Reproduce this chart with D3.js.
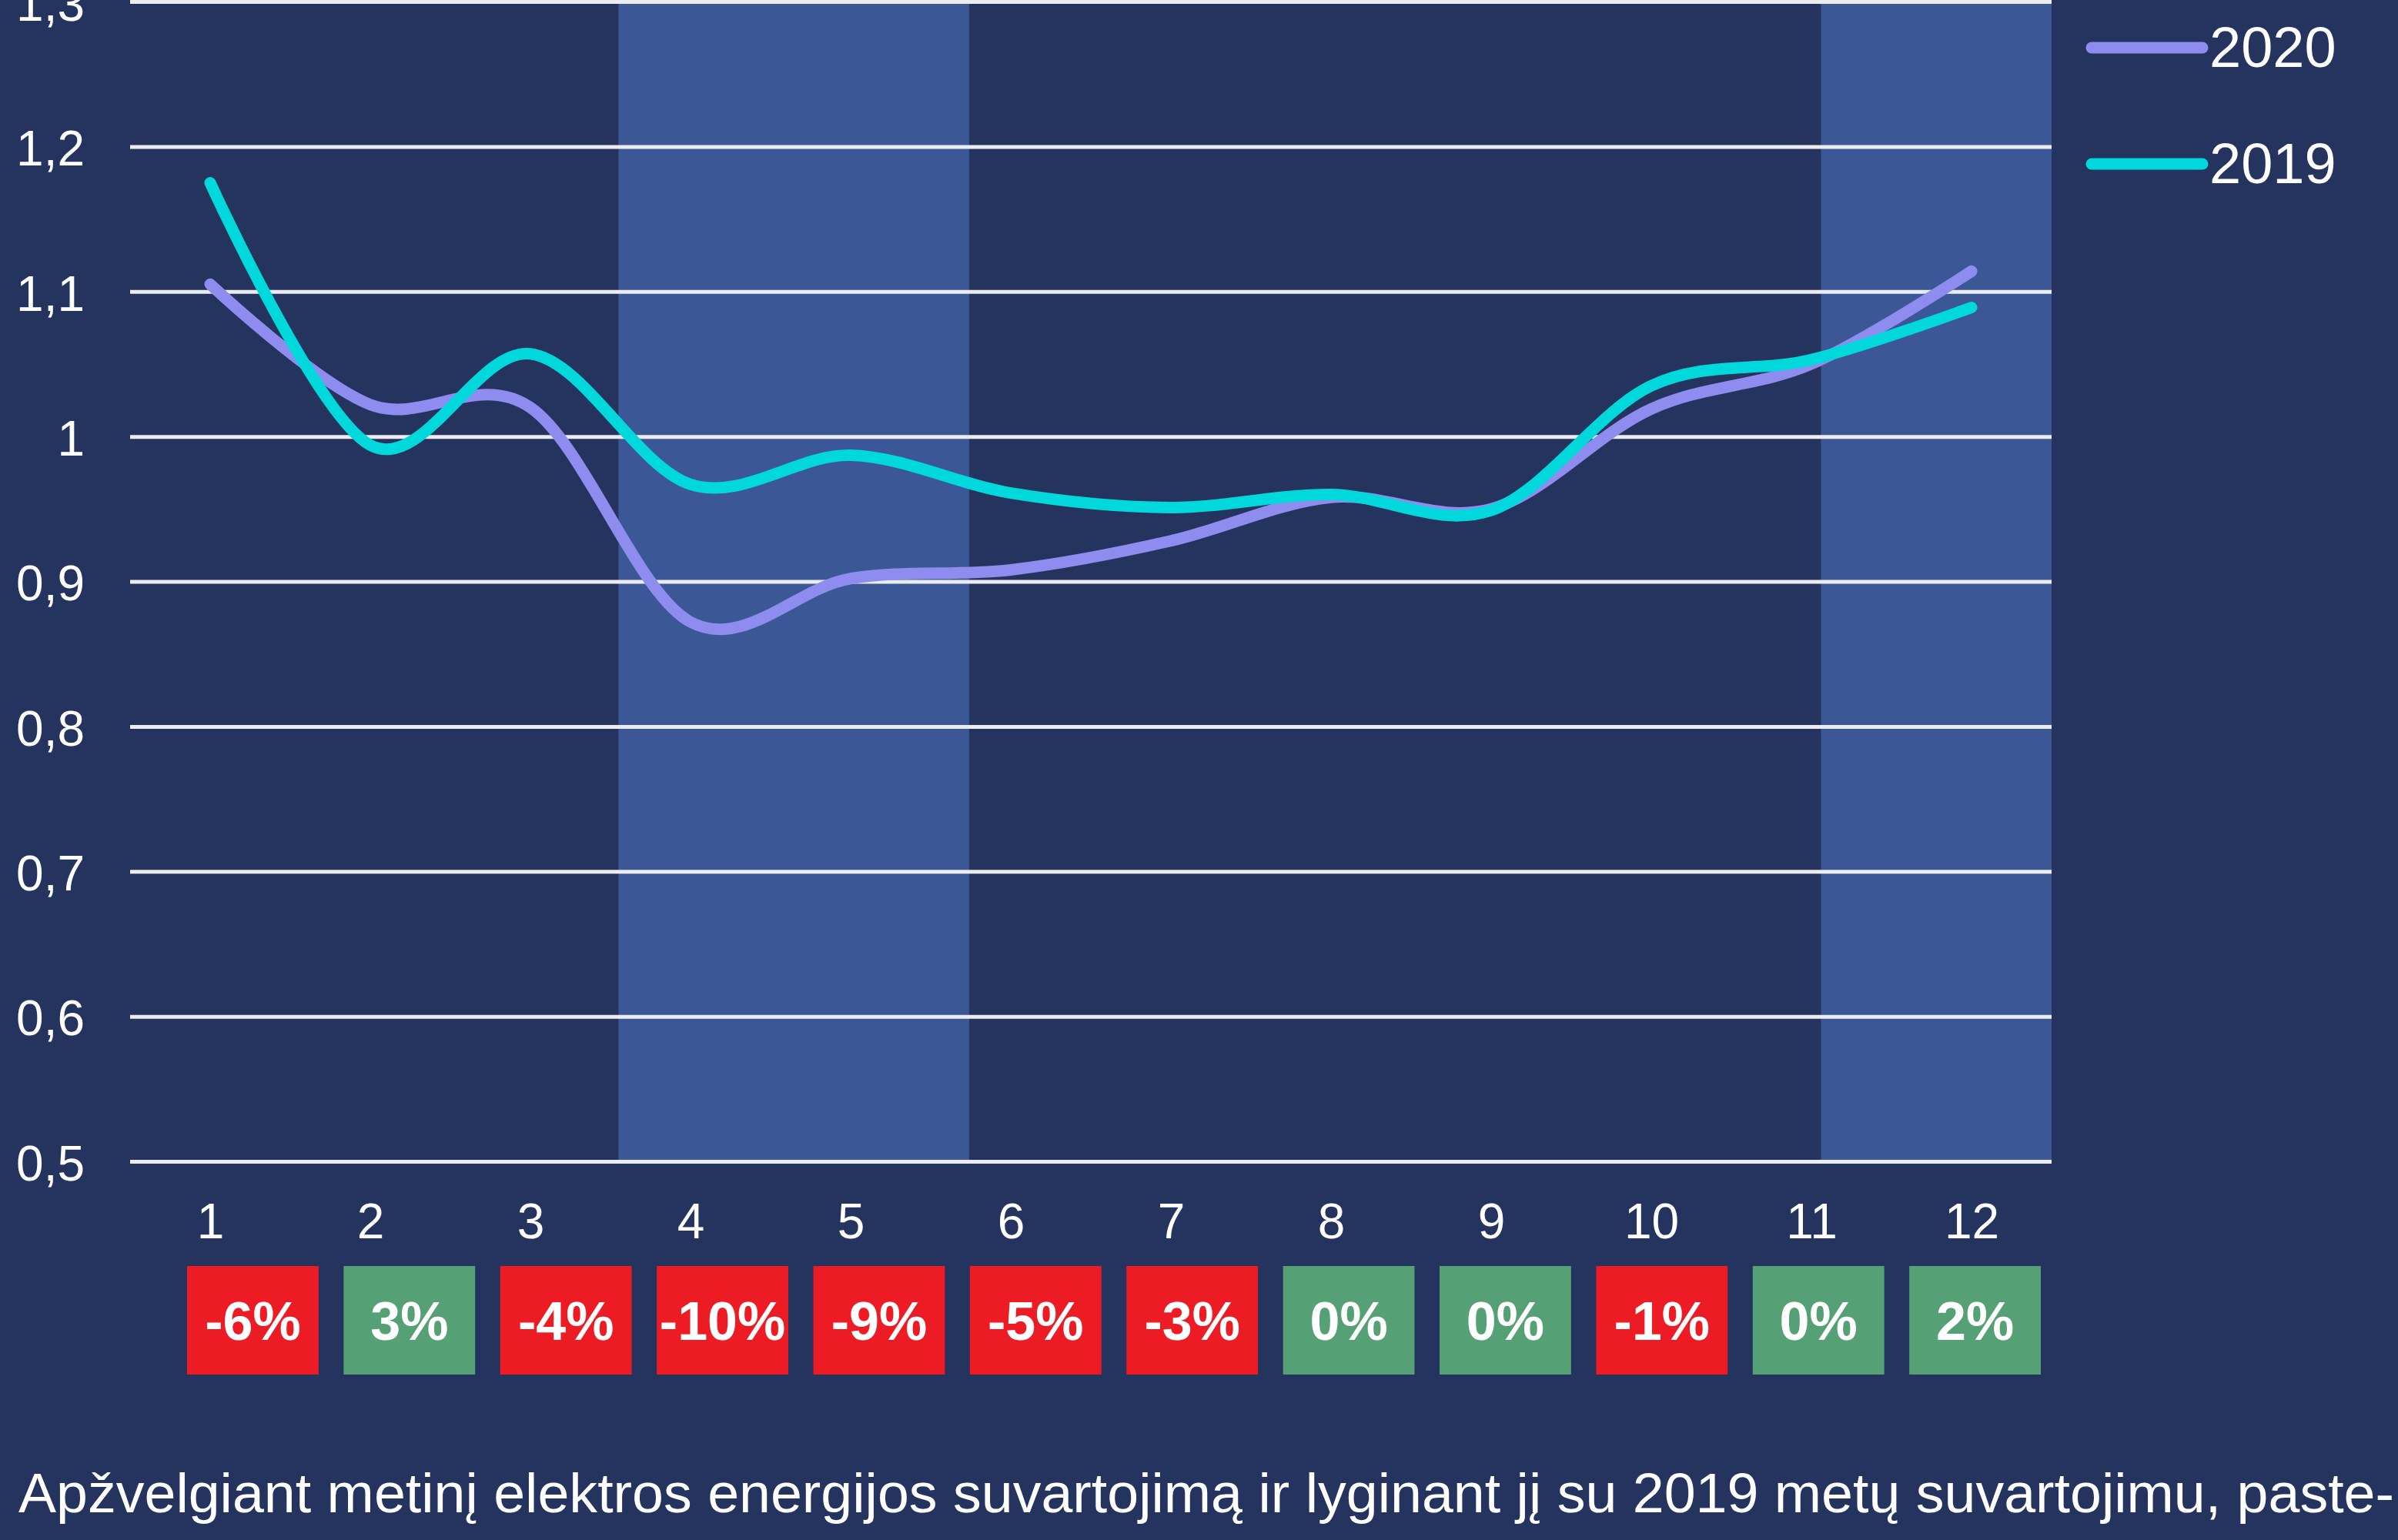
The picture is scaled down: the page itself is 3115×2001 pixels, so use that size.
<!DOCTYPE html>
<html>
<head>
<meta charset="utf-8">
<script src="https://cdn.jsdelivr.net/npm/d3@7"></script>
<style>
  html, body { margin: 0; padding: 0; background: #24345f; }
  svg { display: block; font-family: "Liberation Sans", Arial, sans-serif; }
</style>
</head>
<body>
<svg id="chart"></svg>
<script>
// data
const months = [1, 2, 3, 4, 5, 6, 7, 8, 9, 10, 11, 12];
const values2020 = [1.105, 1.022, 1.02, 0.872, 0.902, 0.908, 0.928, 0.958, 0.95, 1.019, 1.05, 1.114];
const values2019 = [1.175, 0.994, 1.057, 0.967, 0.987, 0.961, 0.951, 0.96, 0.949, 1.035, 1.053, 1.089];
const changeLabels = ['-6%', '3%', '-4%', '-10%', '-9%', '-5%', '-3%', '0%', '0%', '-1%', '0%', '2%'];
const yTicks = [0.5, 0.6, 0.7, 0.8, 0.9, 1, 1.1, 1.2, 1.3];
// shaded periods, in month units
const shadedPeriods = [[3.55, 5.74], [11.06, 12.5]];
const seriesNames = ['2020', '2019'];
const caption = 'Apžvelgiant metinį elektros energijos suvartojimą ir lyginant jį su 2019 metų suvartojimu, paste-';

const W = 3115, H = 2001;
const colors = {bg: '#24345f', band: '#3b5796', grid: '#ececf0', s2020: '#8e8cef', s2019: '#00d8dc', red: '#ed1c24', green: '#55a175'};

const svg = d3.select('#chart').attr('width', W).attr('height', H);
svg.append('rect').attr('width', W).attr('height', H).attr('fill', colors.bg);

const plot = {left: 169, right: 2665, top: 2, bottom: 1509};

const x = d3.scaleLinear().domain([0.5, 12.5]).range([plot.left, plot.right]);
const y = d3.scaleLinear().domain([0.5, 1.3]).range([plot.bottom, plot.top]);

const lt = d3.formatLocale({decimal: ',', thousands: ' ', grouping: [3], currency: ['', '']});
const fmt = v => lt.format('~g')(v);

// shaded bands
svg.append('g').selectAll('rect')
  .data(shadedPeriods)
  .join('rect')
    .attr('x', d => x(d[0]))
    .attr('width', d => x(d[1]) - x(d[0]))
    .attr('y', 0)
    .attr('height', plot.bottom)
    .attr('fill', colors.band);

// y grid + labels
const yAxisG = svg.append('g')
  .attr('transform', `translate(${plot.left},0)`)
  .call(d3.axisLeft(y).tickValues(yTicks).tickFormat(fmt)
    .tickSize(-(plot.right - plot.left)).tickPadding(59));
yAxisG.select('.domain').remove();
yAxisG.selectAll('line').attr('stroke', colors.grid).attr('stroke-width', 5);
yAxisG.selectAll('text')
  .attr('fill', '#fff')
  .attr('font-size', 64)
  .attr('font-family', '"Liberation Sans", Arial, sans-serif')
  .attr('dy', '0.38em');

// month labels
const xAxisG = svg.append('g')
  .attr('transform', `translate(0,${plot.bottom})`)
  .call(d3.axisBottom(x).tickValues(months).tickFormat(d3.format('d'))
    .tickSize(0).tickPadding(55));
xAxisG.select('.domain').remove();
xAxisG.selectAll('text')
  .attr('fill', '#fff')
  .attr('font-size', 64)
  .attr('font-family', '"Liberation Sans", Arial, sans-serif');

// lines
const line = d3.line()
  .x((d, i) => x(months[i]))
  .y(d => y(d))
  .curve(d3.curveCardinal.tension(0));

const series = [
  {name: seriesNames[0], values: values2020, color: colors.s2020},
  {name: seriesNames[1], values: values2019, color: colors.s2019}
];

svg.append('g').selectAll('path')
  .data(series)
  .join('path')
    .attr('d', d => line(d.values))
    .attr('fill', 'none')
    .attr('stroke', d => d.color)
    .attr('stroke-width', 15)
    .attr('stroke-linecap', 'round')
    .attr('stroke-linejoin', 'round');

// legend
const legend = svg.append('g').attr('transform', 'translate(2717,62)');
const item = legend.selectAll('g')
  .data(series)
  .join('g')
    .attr('transform', (d, i) => `translate(0,${i * 151})`);
item.append('line')
  .attr('x1', 0).attr('x2', 144)
  .attr('stroke', d => d.color)
  .attr('stroke-width', 15)
  .attr('stroke-linecap', 'round');
item.append('text')
  .attr('x', 153)
  .attr('y', 25)
  .attr('fill', '#fff')
  .attr('font-size', 74)
  .text(d => d.name);

// change boxes
const boxScale = d3.scaleBand().domain(months).range([243, 2651]).paddingInner(0.16);
const boxTop = 1645, boxH = 141;
const boxes = svg.append('g').selectAll('g')
  .data(months)
  .join('g')
    .attr('transform', d => `translate(${boxScale(d)},${boxTop})`);
boxes.append('rect')
  .attr('width', boxScale.bandwidth())
  .attr('height', boxH)
  .attr('fill', (d, i) => changeLabels[i].startsWith('-') ? colors.red : colors.green);
boxes.append('text')
  .attr('x', boxScale.bandwidth() / 2)
  .attr('y', boxH / 2 + 25)
  .attr('text-anchor', 'middle')
  .attr('fill', '#fff')
  .attr('font-size', 70)
  .attr('font-weight', 'bold')
  .text((d, i) => changeLabels[i]);

// caption at the bottom
svg.append('text')
  .attr('x', 24)
  .attr('y', 1965)
  .attr('fill', '#fff')
  .attr('font-size', 72)
  .attr('textLength', 3086)
  .attr('lengthAdjust', 'spacingAndGlyphs')
  .text(caption);
</script>
</body>
</html>
